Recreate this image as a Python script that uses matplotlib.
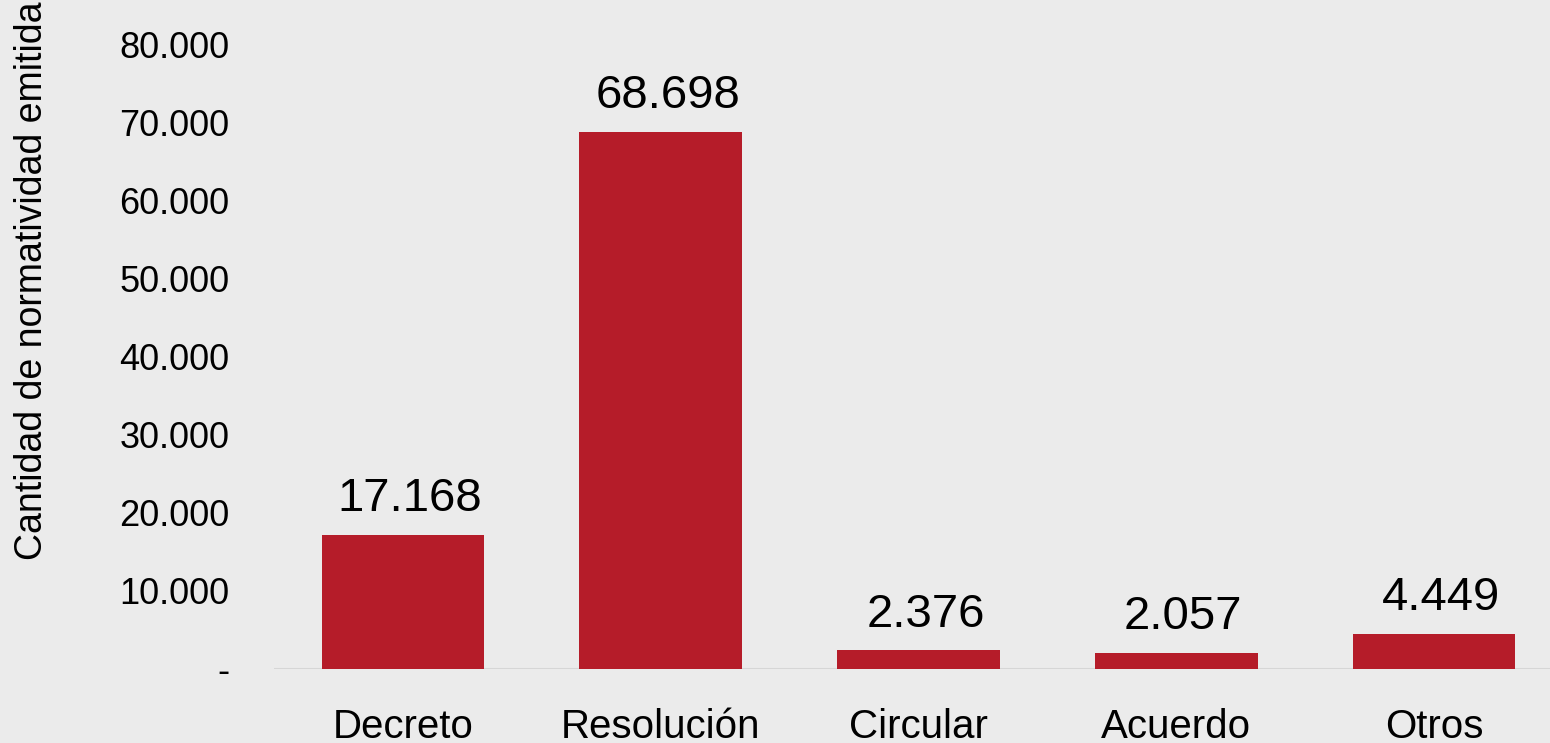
import matplotlib

matplotlib.use("Agg")
import matplotlib.pyplot as plt  # noqa: E402
from matplotlib.ticker import FuncFormatter  # noqa: E402

categorias = ["Decreto", "Resolución", "Circular", "Acuerdo", "Otros"]
cantidades = [17168, 68698, 2376, 2057, 4449]
ticks_y = [0, 10000, 20000, 30000, 40000, 50000, 60000, 70000, 80000]


def miles(v, _pos=None):
    if v == 0:
        return "-"
    return f"{int(round(v)):,}".replace(",", ".")


plt.rcParams["font.family"] = ["Liberation Sans", "DejaVu Sans"]

fig = plt.figure(figsize=(15.5, 7.43), dpi=100)
fig.patch.set_facecolor("#ebebeb")
ax = fig.add_axes([274 / 1550, 1 - 669 / 743, 1289 / 1550, (669 - 44) / 743])
ax.set_facecolor("#ebebeb")

x = range(len(categorias))
bars = ax.bar(x, cantidades, width=0.63, color="#b51c29")
for b, v in zip(bars, cantidades):
    ax.annotate(miles(v), (b.get_x() + b.get_width() / 2, v),
                xytext=(5, 10), textcoords="offset points",
                ha="center", va="bottom", fontsize=34)

ax.axhline(0, color="#d6d6d6", lw=1.5, zorder=0)
ax.set_xlim(-0.5, 4.5)
ax.set_ylim(0, 80000)
ax.set_yticks(ticks_y)
ax.yaxis.set_major_formatter(FuncFormatter(miles))
ax.set_xticks(list(x))
ax.set_xticklabels(categorias)
ax.tick_params(axis="y", length=0, pad=32, labelsize=26)
ax.tick_params(axis="x", length=0, pad=28, labelsize=29)
for s in ax.spines.values():
    s.set_visible(False)

fig.text(32 / 1550, 1 - 281 / 743, "Cantidad de normatividad emitida",
         rotation=90, ha="center", va="center", fontsize=27)

fig.savefig("out.png", dpi=100, facecolor=fig.get_facecolor())
